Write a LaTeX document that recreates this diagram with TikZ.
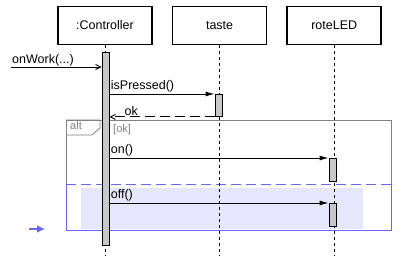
\documentclass[tikz,border=0pt]{standalone}
\usepackage{fontspec}
\setmainfont{Liberation Sans}
\usetikzlibrary{positioning,arrows.meta}

\definecolor{altgray}{RGB}{128,128,128}
\definecolor{opblue}{RGB}{102,102,255}
\definecolor{opfill}{RGB}{230,230,255}
\definecolor{barfill}{RGB}{200,200,200}

\tikzset{
	objbox/.style={draw, line width=1.6pt, minimum width=94pt, minimum height=38pt, inner sep=0pt, font=\fontsize{12.5}{14}\selectfont},
	actbar/.style={draw, fill=barfill, line width=0.9pt, anchor=north, minimum width=7pt, inner sep=0pt},
	lifeline/.style={dash pattern=on 3pt off 3pt, line width=0.8pt},
	msg/.style={line width=0.9pt, -{Latex[length=9pt, width=5pt]}},
	openmsg/.style={line width=0.9pt, -{Straight Barb[length=5pt, width=5pt]}},
	retmsg/.style={line width=0.9pt, dash pattern=on 10pt off 5pt, -{Straight Barb[length=5pt, width=5pt]}},
	msglabel/.style={anchor=south west, inner sep=1pt, font=\fontsize{12.5}{14}\selectfont},
	guardlabel/.style={anchor=north west, inner sep=0pt, text=altgray, font=\fontsize{11}{13}\selectfont}
}

\begin{document}
\begin{tikzpicture}[x=1pt, y=-1pt]
	\useasboundingbox (0,0) rectangle (416,276);

	% objects
	\node[objbox] (ctrl) at (105,25.5) {:Controller};
	\node[objbox, right=19pt of ctrl] (taste) {taste};
	\node[objbox, right=19pt of taste] (led) {roteLED};

	% alt frame
	\coordinate (frametl) at (66,120);
	\coordinate (elsel) at (66,184);
	\coordinate (elser) at (391,184);
	\coordinate (framebr) at (391,230);
	\fill[opfill] (81,188) rectangle (363,229);
	\draw[altgray, line width=0.8pt] (elsel) |- (frametl -| elser) -- (elser);
	\draw[altgray, line width=0.8pt] (frametl) -- ++(34,0) -- ++(0,8) -- ++(-8,7) -- ++(-26,0);
	\node[guardlabel] (altlbl) at (70,121) {alt};
	\draw[opblue, line width=0.8pt] (elsel) |- (framebr) -- (elser);
	\draw[opblue, line width=0.8pt, dash pattern=on 10pt off 5pt] (elsel) -- (elser);

	% lifelines
	\draw[lifeline] (ctrl.south) -- (ctrl.south |- 0,256);
	\draw[lifeline] (taste.south) -- (taste.south |- 0,256);
	\draw[lifeline] (led.south) -- (led.south |- 0,256);

	% activations
	\node[actbar, minimum height=193pt] (ctrlbar) at (105.5,52) {};
	\node[actbar, minimum height=22pt] (tastebar) at (218.5,94) {};
	\node[actbar, minimum height=23pt] (onbar) at (332.5,158) {};
	\node[actbar, minimum height=23pt] (offbar) at (332.5,203) {};

	% messages
	\coordinate (start) at (11,67);
	\draw[openmsg] (start) -- (start -| ctrlbar.west);
	\node[msglabel] at (start) {onWork(...)};

	\draw[msg] (ctrlbar.east |- tastebar.north) -- (tastebar.north west)
		node[msglabel, pos=0] {isPressed()};
	\draw[retmsg] (tastebar.south west) -- (ctrlbar.east |- tastebar.south)
		node[msglabel, pos=0.87] {ok};
	\node[guardlabel] (guard) at (113,124) {[ok]};
	\draw[msg] (ctrlbar.east |- onbar.north) -- (onbar.north west)
		node[msglabel, pos=0] {on()};
	\draw[msg] (ctrlbar.east |- offbar.north) -- (offbar.north west)
		node[msglabel, pos=0] {off()};

	% current operand marker
	\coordinate (mark) at (29,229);
	\draw[opblue, line width=2.6pt, -{Latex[length=8pt, width=8pt]}] (mark) -- ++(16,0);
\end{tikzpicture}
\end{document}
